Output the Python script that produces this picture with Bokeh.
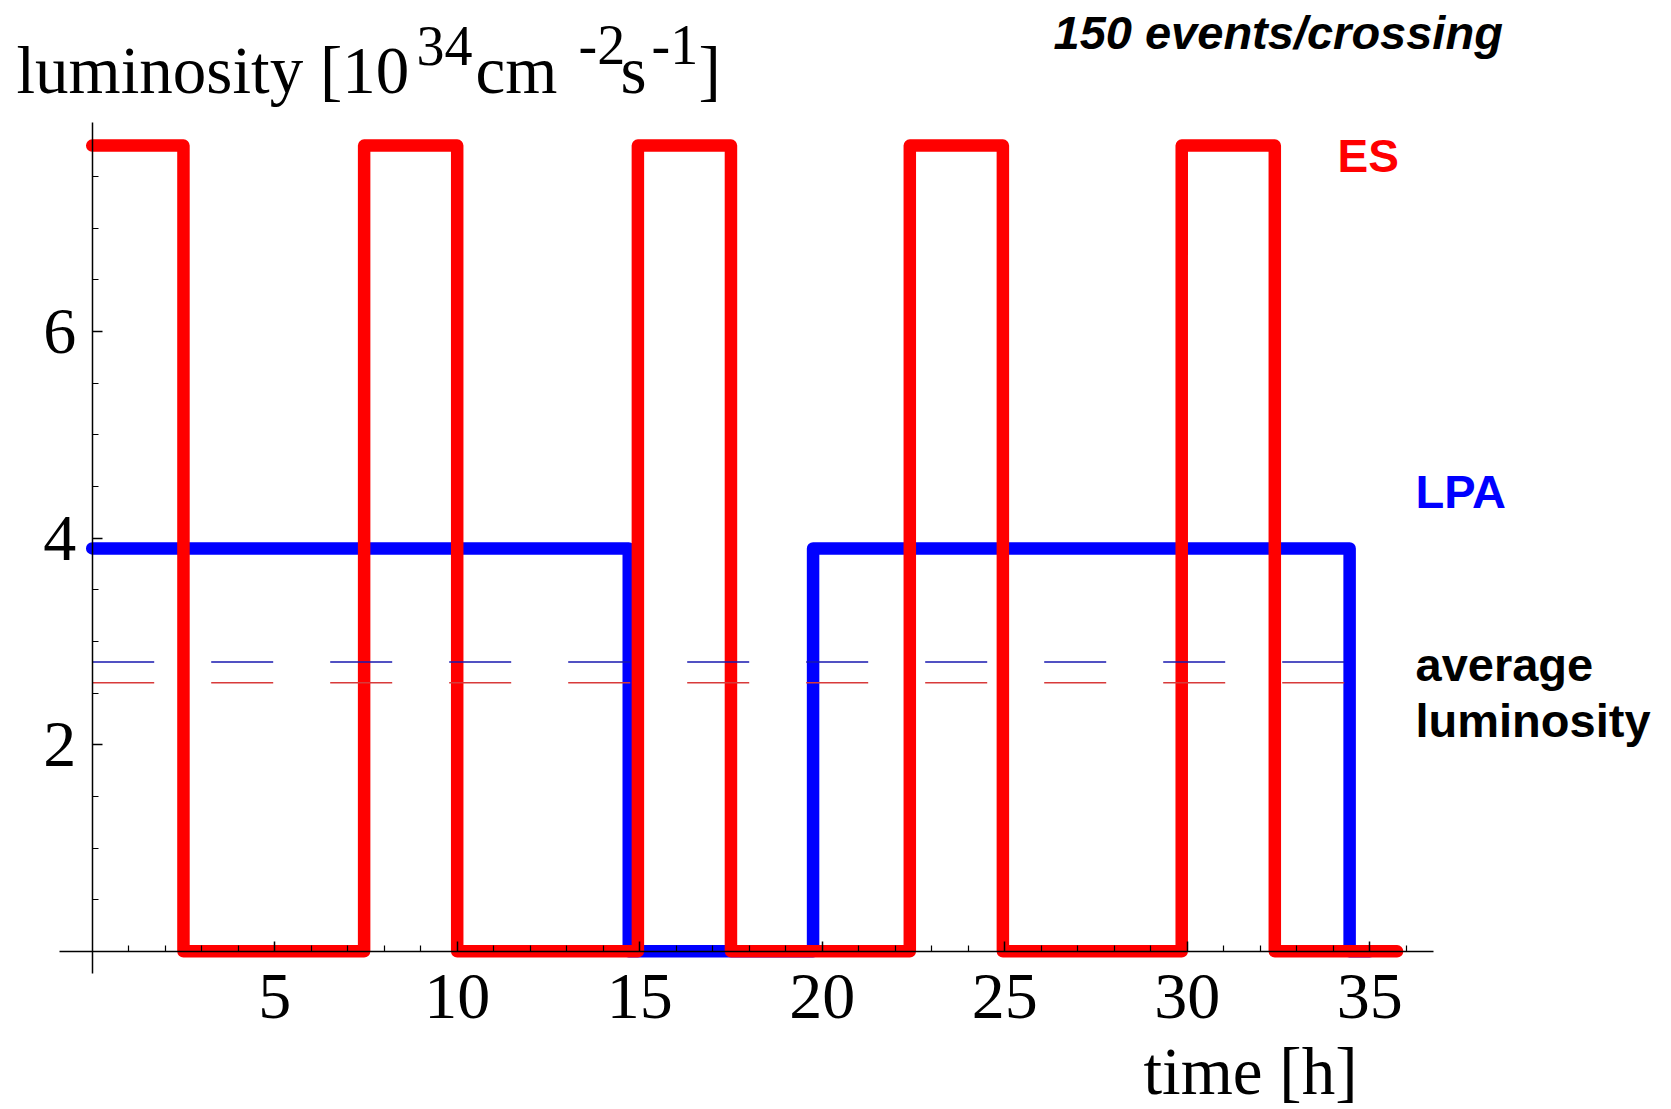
from bokeh.plotting import figure
from bokeh.models import Range1d, FixedTicker, Label
from bokeh.embed import file_html
from bokeh.resources import INLINE

# ---------------- data ----------------
# ES (red): transition times [h] and luminosity levels [1e34 cm^-2 s^-1]
es_times = [0.0, 2.5, 7.45, 10.0, 14.95, 17.5, 22.4, 24.95, 29.85, 32.4, 35.75]
es_levels = [7.8, 0.0, 7.8, 0.0, 7.8, 0.0, 7.8, 0.0, 7.8, 0.0, 0.0]

# LPA (blue)
lpa_times = [0.0, 14.7, 19.75, 34.45, 35.0]
lpa_levels = [3.9, 0.0, 3.9, 0.0, 0.0]

# average luminosity (dashed)
es_avg = 2.6
lpa_avg = 2.8
es_avg_span = [0.0, 34.6]
lpa_avg_span = [0.0, 34.45]

x_major = [5, 10, 15, 20, 25, 30, 35]
x_minor = [1, 2, 3, 4, 6, 7, 8, 9, 11, 12, 13, 14, 16, 17, 18, 19, 21, 22, 23, 24,
           26, 27, 28, 29, 31, 32, 33, 34, 36]
y_major = [2, 4, 6]
y_minor = [0.5, 1, 1.5, 2.5, 3, 3.5, 4.5, 5, 5.5, 6.5, 7, 7.5]

# ---------------- layout helpers ----------------
W, H = 1671, 1109
X0_PX, X_SCALE = 91.7, 36.5      # pixel of t=0, pixels per hour
Y0_PX, Y_SCALE = 950.8, 103.3    # pixel of L=0, pixels per unit
LABEL_DY = 18                    # baseline correction for labels


def fx(px):
    return (px - X0_PX) / X_SCALE


def fy(py):
    return (Y0_PX - py) / Y_SCALE


p = figure(width=W, height=H,
           x_range=Range1d(fx(0), fx(W)), y_range=Range1d(fy(H), fy(0)),
           output_backend="svg", toolbar_location=None, min_border=0)
p.xgrid.visible = False
p.ygrid.visible = False
p.outline_line_color = None
p.background_fill_color = "white"
p.border_fill_color = "white"

for ax in (p.xaxis[0], p.yaxis[0]):
    ax.fixed_location = 0
    ax.axis_line_color = "black"
    ax.axis_line_width = 1.5
    ax.major_tick_line_color = "black"
    ax.major_tick_line_width = 1.5
    ax.minor_tick_line_color = "black"
    ax.minor_tick_line_width = 1.2
    ax.major_tick_in = 10
    ax.major_tick_out = 0
    ax.minor_tick_in = 6
    ax.minor_tick_out = 0
    ax.major_label_text_font = "Liberation Serif"
    ax.major_label_text_font_size = "66px"
    ax.major_label_text_font_style = "normal"
    ax.major_label_text_color = "black"

p.xaxis.ticker = FixedTicker(ticks=x_major, minor_ticks=x_minor)
p.yaxis.ticker = FixedTicker(ticks=y_major, minor_ticks=y_minor)
p.xaxis.bounds = (fx(59.3), fx(1433))
p.yaxis.bounds = (fy(972.7), fy(121.7))
p.xaxis.major_label_standoff = 24
p.yaxis.major_label_standoff = 16

# ---------------- series ----------------
p.step(lpa_times, lpa_levels, mode="after", line_color="#0000ff", line_width=12.5,
       line_join="round", line_cap="round")
p.step(es_times, es_levels, mode="after", line_color="#ff0000", line_width=12.5,
       line_join="round", line_cap="round")
p.line(lpa_avg_span, [lpa_avg, lpa_avg], line_color="#1818b0", line_width=1.6,
       line_dash="62 57")
p.line(es_avg_span, [es_avg, es_avg], line_color="#d83a3a", line_width=1.6,
       line_dash="62 57")

# ---------------- texts ----------------
def add_label(text, px, py, font, size, color="black", style="normal"):
    p.add_layout(Label(x=fx(px), y=fy(py - LABEL_DY), text=text, text_font=font,
                       text_font_size=size, text_color=color, text_font_style=style,
                       text_baseline="alphabetic", text_align="left"))


serif = "Liberation Serif"
sans = "Liberation Sans"
add_label("luminosity [10", 16, 87, serif, "67px")
add_label("34", 416, 63, serif, "56px")
add_label("cm", 475, 87, serif, "67px")
add_label("-2", 578, 62, serif, "56px")
add_label("s", 620, 87, serif, "67px")
add_label("-1", 651, 62, serif, "56px")
add_label("]", 698, 87, serif, "67px")
add_label("time [h]", 1143, 1088, serif, "67px")

add_label("150 events/crossing", 1053, 50, sans, "47px", style="bold italic")
add_label("ES", 1337, 173, sans, "46px", color="#ff0000", style="bold")
add_label("LPA", 1415, 509, sans, "47px", color="#0000ff", style="bold")
add_label("average", 1415, 682, sans, "47px", style="bold")
add_label("luminosity", 1415, 738, sans, "47px", style="bold")

open("out.html", "w").write(file_html(p, INLINE))
